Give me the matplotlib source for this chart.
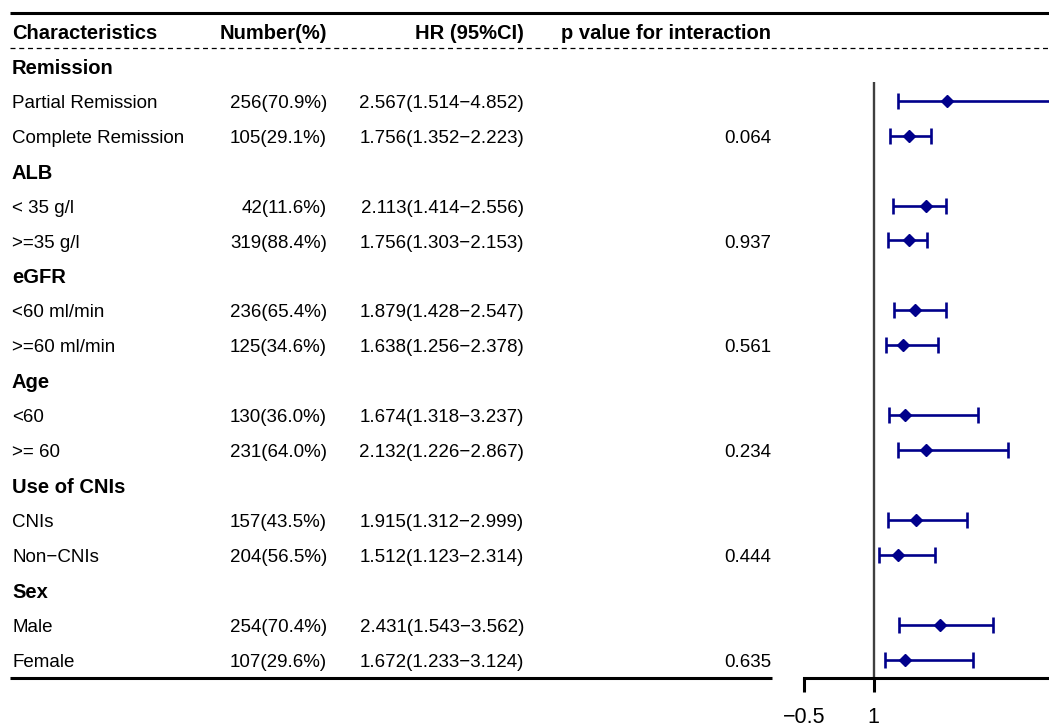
import matplotlib
matplotlib.use("Agg")
import matplotlib.pyplot as plt

plt.rcParams["font.family"] = ["Liberation Sans", "DejaVu Sans"]

# table content
headers = ["Characteristics", "Number(%)", "HR (95%CI)", "p value for interaction"]
groups = ["Remission", "ALB", "eGFR", "Age", "Use of CNIs", "Sex"]
subgroups = [
    ["Partial Remission", "Complete Remission"],
    ["< 35 g/l", ">=35 g/l"],
    ["<60 ml/min", ">=60 ml/min"],
    ["<60", ">= 60"],
    ["CNIs", "Non\u2212CNIs"],
    ["Male", "Female"],
]
numbers = [
    ["256(70.9%)", "105(29.1%)"],
    ["42(11.6%)", "319(88.4%)"],
    ["236(65.4%)", "125(34.6%)"],
    ["130(36.0%)", "231(64.0%)"],
    ["157(43.5%)", "204(56.5%)"],
    ["254(70.4%)", "107(29.6%)"],
]
hr_text = [
    ["2.567(1.514\u22124.852)", "1.756(1.352\u22122.223)"],
    ["2.113(1.414\u22122.556)", "1.756(1.303\u22122.153)"],
    ["1.879(1.428\u22122.547)", "1.638(1.256\u22122.378)"],
    ["1.674(1.318\u22123.237)", "2.132(1.226\u22122.867)"],
    ["1.915(1.312\u22122.999)", "1.512(1.123\u22122.314)"],
    ["2.431(1.543\u22123.562)", "1.672(1.233\u22123.124)"],
]
p_interaction = ["0.064", "0.937", "0.561", "0.234", "0.444", "0.635"]

# forest values as drawn (one per subgroup row, top to bottom)
hr = [2.567, 1.756, 2.113, 1.756, 1.879, 1.638, 1.674, 2.132, 1.915, 1.512, 2.431, 1.672]
ci_lo = [1.514, 1.352, 1.414, 1.303, 1.428, 1.256, 1.318, 1.53, 1.312, 1.123, 1.543, 1.233]
ci_hi = [4.852, 2.223, 2.556, 2.153, 2.547, 2.378, 3.237, 3.89, 2.999, 2.314, 3.562, 3.124]
x_ticks = [-0.5, 1]

W, H = 1049, 727
ROW0, STEP = 65.7, 34.96
TXT_DY = 2.5  # text sits a touch lower than the marker centre
COL_X = [12, 327, 524, 771]
FS, FS_B = 13.5, 14.5
NAVY = "#00008B"

fig = plt.figure(figsize=(W / 100, H / 100), dpi=100)
tab = fig.add_axes([0, 0, 1, 1])
tab.set_xlim(0, W)
tab.set_ylim(H, 0)
tab.axis("off")


def row_y(i):
    return ROW0 + STEP * i


# header
hy = row_y(-1) + TXT_DY
tab.text(COL_X[0], hy, headers[0], ha="left", va="center", fontsize=FS_B, fontweight="bold")
for x, h in zip(COL_X[1:], headers[1:]):
    tab.text(x, hy, h, ha="right", va="center", fontsize=FS_B, fontweight="bold")

# rows
forest_rows = []
r = 0
for g, name in enumerate(groups):
    tab.text(COL_X[0], row_y(r) + TXT_DY, name, ha="left", va="center",
             fontsize=FS_B, fontweight="bold")
    r += 1
    for k in range(2):
        y = row_y(r) + TXT_DY
        tab.text(COL_X[0], y, subgroups[g][k], ha="left", va="center", fontsize=FS)
        tab.text(COL_X[1], y, numbers[g][k], ha="right", va="center", fontsize=FS)
        tab.text(COL_X[2], y, hr_text[g][k], ha="right", va="center", fontsize=FS)
        if k == 1:
            tab.text(COL_X[3], y, p_interaction[g], ha="right", va="center", fontsize=FS)
        forest_rows.append(r)
        r += 1

# table rules
tab.plot([10, W], [13, 13], color="black", lw=2.2, solid_capstyle="butt")
tab.plot([10, W], [47.5, 47.5], color="black", lw=0.9, dashes=(4, 3))
tab.plot([10, 772], [677.5, 677.5], color="black", lw=2.2, solid_capstyle="butt")

# forest panel
ax_left, ax_right = 804, W
ax_top, ax_bot = 82, 678
fx = fig.add_axes([ax_left / W, (H - ax_bot) / H, (ax_right - ax_left) / W, (ax_bot - ax_top) / H])
fx.set_xlim(-0.5, -0.5 + (ax_right - ax_left) / 46.5)
fx.set_ylim((ax_bot - ROW0) / STEP, (ax_top - ROW0) / STEP)
fx.patch.set_alpha(0)
for s in ["top", "right", "left"]:
    fx.spines[s].set_visible(False)
fx.spines["bottom"].set_linewidth(2.2)
fx.axvline(1, color="#3f3f3f", lw=1.7, zorder=1)

err_lo = [h - l for h, l in zip(hr, ci_lo)]
err_hi = [u - h for h, u in zip(hr, ci_hi)]
fx.errorbar(hr, forest_rows, xerr=[err_lo, err_hi], fmt="D", color=NAVY,
            ecolor=NAVY, elinewidth=1.9, capsize=5.6, capthick=1.9,
            markersize=6.2, zorder=3, clip_on=True)

fx.set_xticks(x_ticks)
fx.set_xticklabels([f"{t:g}".replace("-", "\u2212") for t in x_ticks])
fx.tick_params(axis="x", direction="out", length=10, width=2.2, labelsize=15.5, pad=11)
fx.set_yticks([])

fig.savefig("out.png", dpi=100)
